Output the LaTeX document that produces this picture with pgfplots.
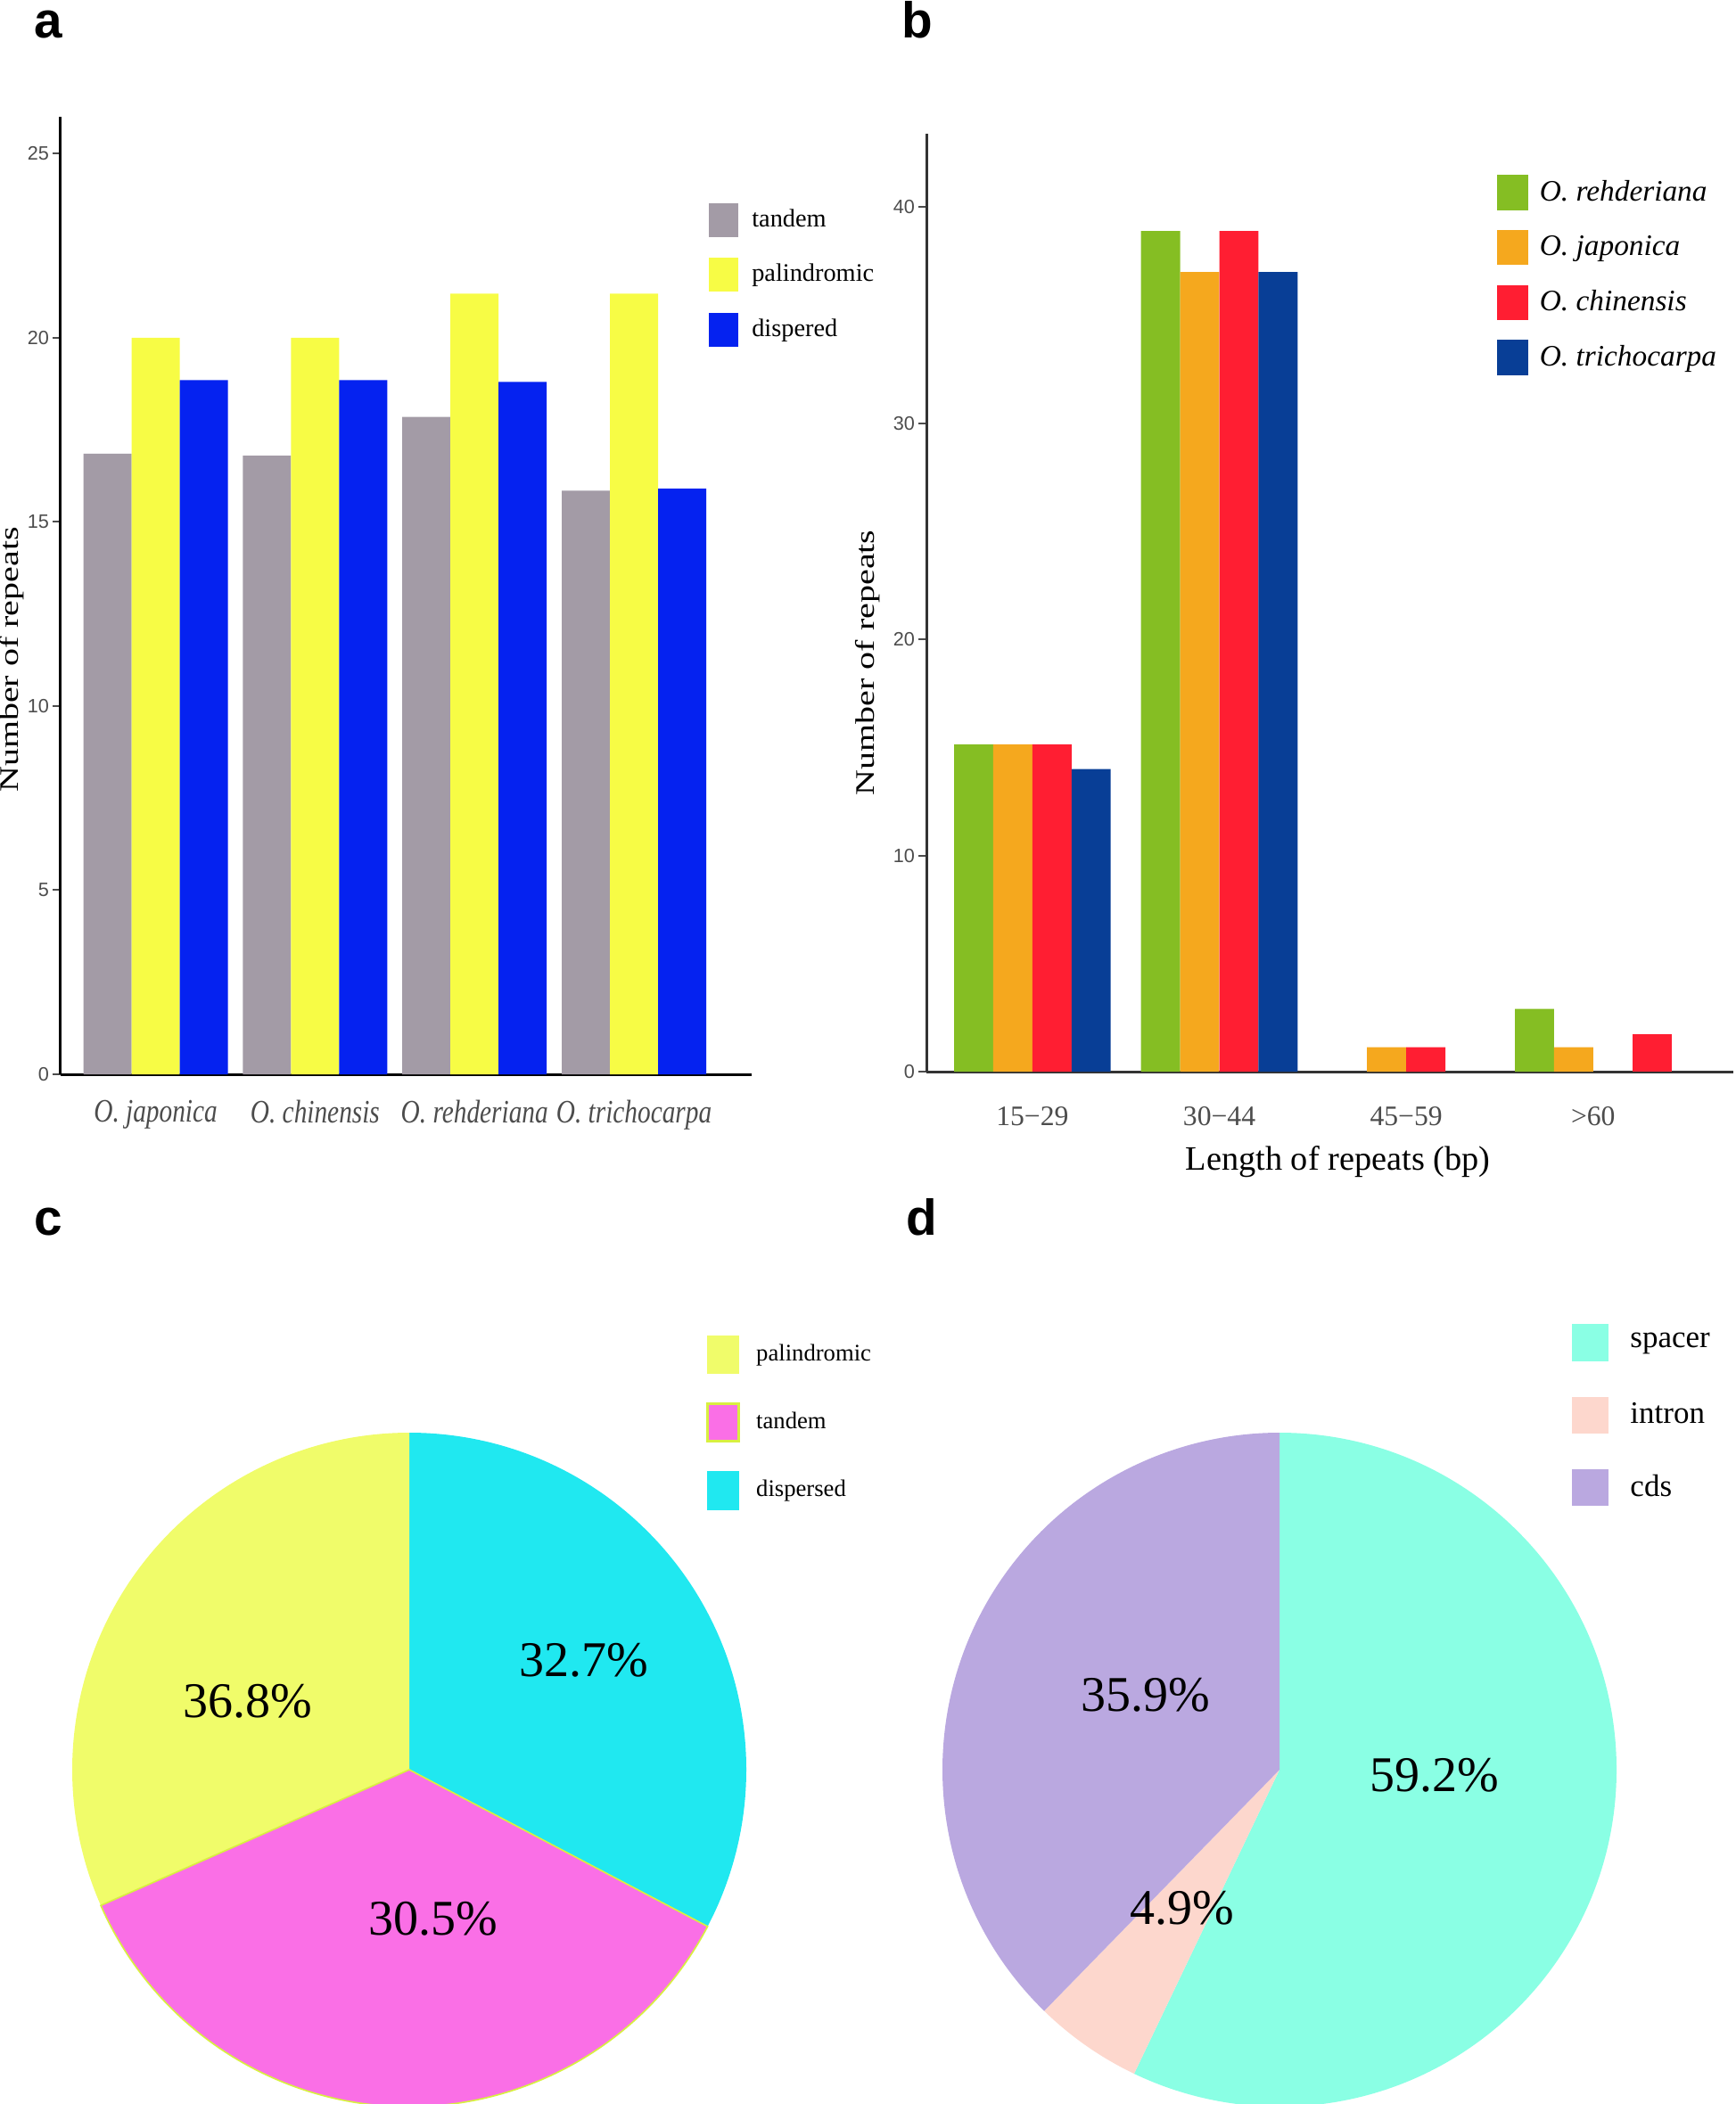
\documentclass[border=0pt]{standalone}
\usepackage{fontspec}
\setmainfont{Liberation Serif}
\newfontfamily\arial{Liberation Sans}
\usepackage{pgfplots}
\usepackage{pgfplotstable}
\pgfplotsset{compat=1.18}

\definecolor{tandemA}{HTML}{A39BA6}
\definecolor{palA}{HTML}{F7FC45}
\definecolor{dispA}{HTML}{0522F0}
\definecolor{greenB}{HTML}{85BE23}
\definecolor{orangeB}{HTML}{F5A81E}
\definecolor{redB}{HTML}{FF1E32}
\definecolor{blueB}{HTML}{083E96}
\definecolor{yellowC}{HTML}{F0FC6A}
\definecolor{pinkC}{HTML}{FA6FE6}
\definecolor{cyanC}{HTML}{20E8F0}
\definecolor{limeC}{HTML}{D8F040}
\definecolor{spacerD}{HTML}{8AFFE4}
\definecolor{intronD}{HTML}{FDD7CD}
\definecolor{cdsD}{HTML}{BAA8E0}

\newcommand{\tickfont}{\arial\fontsize{6.5}{8}\selectfont}
% legend square: colour options, width, half height, text offset
\newcommand{\sqimg}[4]{\addlegendimage{legend image code/.code={\fill[#1] (0pt,-#3) rectangle (#2,#3); \path (#4,0pt);}}}

% pie shares as drawn, clockwise from 12 o'clock
\pgfplotstableread{
part value
dispersed 32.7
tandem 35.7
palindromic 31.6
}\pieC
\pgfplotstableread{
part value
spacer 57.1
intron 5.2
cds 37.7
}\pieD

\begin{document}
\begin{tikzpicture}
\path[use as bounding box] (0,0) rectangle (583.8pt,-708pt);

\def\pieR{113.4pt}
\pgfplotstablegetelem{0}{value}\of\pieC \pgfmathsetmacro\cA{90-3.6*\pgfplotsretval}
\pgfplotstablegetelem{1}{value}\of\pieC \pgfmathsetmacro\cB{\cA-3.6*\pgfplotsretval}
\pgfplotstablegetelem{2}{value}\of\pieC \pgfmathsetmacro\cC{\cB-3.6*\pgfplotsretval}
\pgfplotstablegetelem{0}{value}\of\pieD \pgfmathsetmacro\dA{90-3.6*\pgfplotsretval}
\pgfplotstablegetelem{1}{value}\of\pieD \pgfmathsetmacro\dB{\dA-3.6*\pgfplotsretval}
\pgfplotstablegetelem{2}{value}\of\pieD \pgfmathsetmacro\dC{\dB-3.6*\pgfplotsretval}

% ---- a ----
\begin{axis}[
  at={(20.4pt,-361.5pt)}, anchor=south west,
  scale only axis, width=232.5pt, height=322.2pt,
  xmin=-0.596, xmax=3.738, ymin=0, ymax=26,
  axis lines*=left, axis line style={line width=0.9pt},
  xtick={0,1,2,3},
  xticklabels={O.\ japonica, O.\ chinensis, O.\ rehderiana, O.\ trichocarpa},
  x tick style={draw=none},
  ytick={0,5,10,15,20,25}, tick align=outside, major tick length=2.7pt,
  y tick style={line width=0.6pt, color=black!70},
  yticklabel style={font=\tickfont, text=black!70, inner sep=1pt},
  /pgf/number format/assume math mode=true,
  xticklabel style={font=\fontsize{11}{13}\selectfont\itshape, text=black!70, xscale=0.8, yshift=-2.5pt},
  ylabel={Number of repeats},
  ylabel style={font=\fontsize{12}{14}\selectfont, at={(axis description cs:-0.0705,0.433)}, anchor=center, yscale=0.75},
  legend cell align=left,
  legend style={at={(axis description cs:0.938,0.910)}, anchor=north west, draw=none, fill=none,
    inner sep=0pt, outer sep=0pt, row sep=6.95pt, font=\fontsize{8.5}{10}\selectfont,
    nodes={inner sep=0pt}},
]
\addplot[ybar, bar width=0.302, bar shift=-0.302, fill=tandemA, draw=none, forget plot]
  coordinates {(0,16.85) (1,16.8) (2,17.85) (3,15.85)};
\addplot[ybar, bar width=0.302, bar shift=0, fill=palA, draw=none, forget plot]
  coordinates {(0,20) (1,20) (2,21.2) (3,21.2)};
\addplot[ybar, bar width=0.302, bar shift=0.302, fill=dispA, draw=none, forget plot]
  coordinates {(0,18.85) (1,18.85) (2,18.8) (3,15.9)};
\sqimg{tandemA}{9.6pt}{5.55pt}{14.1pt}\addlegendentry{tandem}
\sqimg{palA}{9.6pt}{5.55pt}{14.1pt}\addlegendentry{palindromic}
\sqimg{dispA}{9.6pt}{5.55pt}{14.1pt}\addlegendentry{dispered}
\end{axis}

% ---- b ----
\begin{axis}[
  at={(311.7pt,-360.6pt)}, anchor=south west,
  scale only axis, width=271.5pt, height=315.6pt,
  xmin=-0.567, xmax=3.75, ymin=0, ymax=43.4,
  axis lines*=left, axis line style={line width=0.9pt, color=black!80},
  xtick={0,1,2,3},
  xticklabels={15−29, 30−44, 45−59, >60},
  x tick style={draw=none},
  ytick={0,10,20,30,40}, tick align=outside, major tick length=2.7pt,
  y tick style={line width=0.6pt, color=black!70},
  yticklabel style={font=\tickfont, text=black!70, inner sep=1pt},
  /pgf/number format/assume math mode=true,
  xticklabel style={font=\fontsize{9.5}{11}\selectfont, text=black!70, yshift=-5.5pt},
  xlabel={Length of repeats (bp)},
  xlabel style={font=\fontsize{11.5}{13}\selectfont, at={(axis description cs:0.51,-0.096)}, anchor=center},
  ylabel={Number of repeats},
  ylabel style={font=\fontsize{12}{14}\selectfont, at={(axis description cs:-0.0728,0.436)}, anchor=center, yscale=0.75},
  legend cell align=left,
  legend style={at={(axis description cs:0.7067,0.956)}, anchor=north west, draw=none, fill=none,
    inner sep=0pt, outer sep=0pt, row sep=6.7pt, font=\fontsize{10}{12}\selectfont\itshape,
    nodes={inner sep=0pt}},
]
\addplot[ybar, bar width=0.2095, bar shift=-0.314, fill=greenB, draw=none, forget plot]
  coordinates {(0,15.15) (1,38.9) (3,2.9)};
\addplot[ybar, bar width=0.2095, bar shift=-0.105, fill=orangeB, draw=none, forget plot]
  coordinates {(0,15.15) (1,37.0) (2,1.13) (3,1.13)};
\addplot[ybar, bar width=0.2095, bar shift=0.105, fill=redB, draw=none, forget plot]
  coordinates {(0,15.15) (1,38.9) (2,1.13)};
% the >60 red bar sits in the last slot of its group
\addplot[ybar, bar width=0.2095, bar shift=0.314, fill=redB, draw=none, forget plot]
  coordinates {(3,1.73)};
\addplot[ybar, bar width=0.2095, bar shift=0.314, fill=blueB, draw=none, forget plot]
  coordinates {(0,14.0) (1,37.0)};
\sqimg{greenB}{10.2pt}{5.7pt}{14.1pt}\addlegendentry{O.\ rehderiana}
\sqimg{orangeB}{10.2pt}{5.7pt}{14.1pt}\addlegendentry{O.\ japonica}
\sqimg{redB}{10.2pt}{5.7pt}{14.1pt}\addlegendentry{O.\ chinensis}
\sqimg{blueB}{10.2pt}{5.7pt}{14.1pt}\addlegendentry{O.\ trichocarpa}
\end{axis}

% ---- c ----
\begin{axis}[
  at={(137.7pt,-595.5pt)}, anchor=center,
  scale only axis, width=226.8pt, height=226.8pt,
  xmin=-1, xmax=1, ymin=-1, ymax=1, hide axis, clip=false,
  legend cell align=left,
  legend style={at={(axis description cs:0.9405,1.144)}, anchor=north west, draw=none, fill=none,
    inner sep=0pt, outer sep=0pt, row sep=9.6pt, font=\fontsize{8}{10}\selectfont,
    nodes={inner sep=0pt}},
]
\fill[cyanC] (axis cs:0,0) -- ++(90:\pieR) arc[start angle=90, end angle=\cA, radius=\pieR] -- cycle;
\fill[yellowC] (axis cs:0,0) -- ++(\cB:\pieR) arc[start angle=\cB, end angle=\cC, radius=\pieR] -- cycle;
\filldraw[fill=pinkC, draw=limeC, line width=0.5pt] (axis cs:0,0) -- ++(\cA:\pieR) arc[start angle=\cA, end angle=\cB, radius=\pieR] -- cycle;
\node[font=\fontsize{16.8}{18}\selectfont] at (axis cs:0.5185,0.325) {32.7\%};
\node[font=\fontsize{16.8}{18}\selectfont] at (axis cs:-0.479,0.204) {36.8\%};
\node[font=\fontsize{16.8}{18}\selectfont] at (axis cs:0.0714,-0.442) {30.5\%};
\sqimg{yellowC}{10.5pt}{6.3pt}{16.2pt}\addlegendentry{palindromic}
\sqimg{fill=pinkC, draw=limeC, line width=0.9pt}{10.5pt}{6.3pt}{16.2pt}\addlegendentry{tandem}
\sqimg{cyanC}{10.5pt}{6.3pt}{16.2pt}\addlegendentry{dispersed}
\end{axis}

% ---- d ----
\begin{axis}[
  at={(430.5pt,-595.5pt)}, anchor=center,
  scale only axis, width=226.8pt, height=226.8pt,
  xmin=-1, xmax=1, ymin=-1, ymax=1, hide axis, clip=false,
  legend cell align=left,
  legend style={at={(axis description cs:0.934,1.161)}, anchor=north west, draw=none, fill=none,
    inner sep=0pt, outer sep=0pt, row sep=12pt, font=\fontsize{10.5}{12}\selectfont,
    nodes={inner sep=0pt}},
]
\fill[spacerD] (axis cs:0,0) -- ++(90:\pieR) arc[start angle=90, end angle=\dA, radius=\pieR] -- cycle;
\fill[intronD] (axis cs:0,0) -- ++(\dA:\pieR) arc[start angle=\dA, end angle=\dB, radius=\pieR] -- cycle;
\fill[cdsD] (axis cs:0,0) -- ++(\dB:\pieR) arc[start angle=\dB, end angle=\dC, radius=\pieR] -- cycle;
\node[font=\fontsize{16.8}{18}\selectfont] at (axis cs:-0.397,0.222) {35.9\%};
\node[font=\fontsize{16.8}{18}\selectfont] at (axis cs:0.460,-0.016) {59.2\%};
\node[font=\fontsize{16.8}{18}\selectfont] at (axis cs:-0.288,-0.410) {4.9\%};
\sqimg{spacerD}{12pt}{6pt}{19.2pt}\addlegendentry{spacer}
\sqimg{intronD}{12pt}{6pt}{19.2pt}\addlegendentry{intron}
\sqimg{cdsD}{12pt}{6pt}{19.2pt}\addlegendentry{cds}
\end{axis}

\foreach \lx/\ly/\lt in {11.4pt/-12.9pt/a, 303.3pt/-12.9pt/b, 11.4pt/-415.5pt/c, 304.8pt/-415.5pt/d}
  \node[font=\arial\bfseries\fontsize{17}{20}\selectfont, anchor=base west, inner sep=0pt] at (\lx,\ly) {\lt};
\end{tikzpicture}
\end{document}
